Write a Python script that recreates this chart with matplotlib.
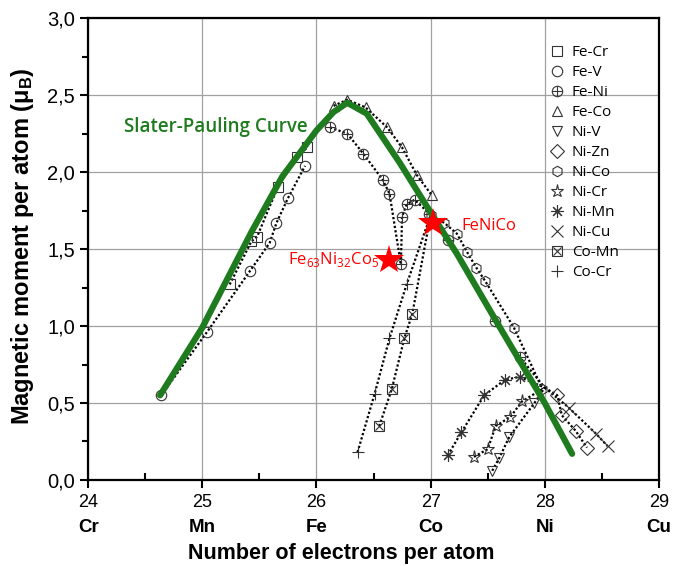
import matplotlib
matplotlib.use("Agg")
import matplotlib.pyplot as plt
from matplotlib.ticker import MultipleLocator, FuncFormatter

plt.rcParams['mathtext.fontset'] = 'custom'
plt.rcParams['mathtext.rm'] = 'Open Sans'

# Slater-Pauling curve (green)
sp_x = [24.63, 25.0, 25.43, 25.70, 26.0, 26.15, 26.27, 26.44, 26.73, 26.99, 27.23, 27.6, 28.0, 28.24]
sp_y = [0.55, 0.99, 1.61, 1.97, 2.27, 2.39, 2.45, 2.38, 2.06, 1.75, 1.47, 1.0, 0.5, 0.17]

# pure Co and Ni end points
co_x, co_y = 27.0, 1.72
ni_x, ni_y = 28.0, 0.6

fecr_x = [25.24, 25.43, 25.48, 25.66, 25.83, 25.92]
fecr_y = [1.27, 1.55, 1.58, 1.90, 2.10, 2.16]
fev_x = [24.64, 25.04, 25.42, 25.59, 25.65, 25.75, 25.90]
fev_y = [0.55, 0.96, 1.36, 1.54, 1.67, 1.83, 2.04]
feni_x = [26.12, 26.27, 26.41, 26.58, 26.64, 26.74, 26.75, 26.79, 26.86, 26.99, 27.15, 27.56, 27.78]
feni_y = [2.29, 2.25, 2.12, 1.95, 1.86, 1.40, 1.71, 1.79, 1.82, 1.73, 1.56, 1.03, 0.80]
feco_x = [26.15, 26.27, 26.43, 26.62, 26.75, 26.88, 27.01]
feco_y = [2.43, 2.47, 2.42, 2.29, 2.16, 1.98, 1.85]
niv_x = [27.54, 27.60, 27.69, 27.91]
niv_y = [0.06, 0.14, 0.28, 0.50]
nizn_x = [28.11, 28.15, 28.27, 28.37]
nizn_y = [0.55, 0.42, 0.32, 0.21]
nico_x = [27.12, 27.23, 27.32, 27.40, 27.48, 27.73, 27.98]
nico_y = [1.67, 1.60, 1.48, 1.38, 1.29, 0.99, 0.59]
nicr_x = [27.38, 27.50, 27.57, 27.70, 27.80]
nicr_y = [0.15, 0.20, 0.35, 0.41, 0.51]
nimn_x = [27.15, 27.27, 27.47, 27.65, 27.78]
nimn_y = [0.16, 0.31, 0.55, 0.65, 0.67]
nicu_x = [28.21, 28.45, 28.55]
nicu_y = [0.47, 0.30, 0.22]
comn_x = [26.55, 26.66, 26.77, 26.84]
comn_y = [0.35, 0.59, 0.92, 1.08]
cocr_x = [26.36, 26.51, 26.64, 26.79]
cocr_y = [0.18, 0.56, 0.92, 1.27]

stars_x = [26.64, 27.02]
stars_y = [1.43, 1.67]

x_ticks = [24, 25, 26, 27, 28, 29]
elements = ["Cr", "Mn", "Fe", "Co", "Ni", "Cu"]

fig = plt.figure(figsize=(6.73, 5.66), dpi=100)
ax = fig.add_axes([0.131, 0.152, 0.848, 0.816])

dot = dict(color='black', linestyle=(0, (1, 1)), linewidth=1.6, zorder=3)
mk = dict(linestyle='none', markerfacecolor='none', markeredgecolor='#333333',
          markeredgewidth=0.8, markersize=7.5, zorder=4)

# dotted connecting lines
ax.plot(fecr_x, fecr_y, **dot)
ax.plot(fev_x, fev_y, **dot)
ax.plot(feni_x + [ni_x], feni_y + [ni_y], **dot)
ax.plot(feco_x, feco_y, **dot)
ax.plot(niv_x + [ni_x], niv_y + [ni_y], **dot)
ax.plot([ni_x] + nizn_x, [ni_y] + nizn_y, **dot)
ax.plot([co_x] + nico_x, [co_y] + nico_y, **dot)
ax.plot(nicr_x + [ni_x], nicr_y + [ni_y], **dot)
ax.plot(nimn_x + [ni_x], nimn_y + [ni_y], **dot)
ax.plot([ni_x] + nicu_x, [ni_y] + nicu_y, **dot)
ax.plot(comn_x + [co_x], comn_y + [co_y], **dot)
ax.plot(cocr_x + [co_x], cocr_y + [co_y], **dot)

# markers
h_fecr, = ax.plot(fecr_x, fecr_y, marker='s', **mk)
h_fev, = ax.plot(fev_x, fev_y, marker='o', **mk)
h_feni1, = ax.plot(feni_x, feni_y, marker='o', **mk)
h_feni2, = ax.plot(feni_x, feni_y, marker='+', **{**mk, 'markersize': 7.5})
h_feco, = ax.plot(feco_x, feco_y, marker='^', **mk)
h_niv, = ax.plot(niv_x, niv_y, marker='v', **mk)
h_nizn, = ax.plot(nizn_x, nizn_y, marker='D', **{**mk, 'markersize': 7})
h_nico, = ax.plot([co_x] + nico_x, [co_y] + nico_y, marker='h', **mk)
h_nicr, = ax.plot(nicr_x, nicr_y, marker='*', **{**mk, 'markersize': 9.5})
h_nimn, = ax.plot(nimn_x, nimn_y, marker=(8, 2, 0), **{**mk, 'markersize': 9})
h_nicu, = ax.plot(nicu_x, nicu_y, marker='x', **{**mk, 'markersize': 9})
h_comn1, = ax.plot(comn_x, comn_y, marker='s', **mk)
h_comn2, = ax.plot(comn_x, comn_y, marker='x', **{**mk, 'markersize': 5.5})
h_cocr, = ax.plot(cocr_x, cocr_y, marker='+', **{**mk, 'markersize': 9})

# Slater-Pauling curve
ax.plot(sp_x, sp_y, color='#1e7b1e', linewidth=4.5, solid_capstyle='round',
        solid_joinstyle='round', zorder=5)

# highlighted alloys
ax.plot(stars_x, stars_y, linestyle='none', marker='*', markersize=22,
        color='#ff0000', markeredgewidth=0, zorder=6)

ax.text(24.31, 2.29, "Slater-Pauling Curve", color='#1e7b1e', fontsize=13.5,
        family='Open Sans', fontweight='semibold', va='center', ha='left')
ax.text(26.55, 1.43, r"Fe$_{63}$Ni$_{32}$Co$_{5}$", color='#ff0000', fontsize=12,
        family='Open Sans', va='center', ha='right')
ax.text(27.27, 1.65, "FeNiCo", color='#ff0000', fontsize=12,
        family='Open Sans', va='center', ha='left')

handles = [h_fecr, h_fev, (h_feni1, h_feni2), h_feco, h_niv, h_nizn, h_nico,
           h_nicr, h_nimn, h_nicu, (h_comn1, h_comn2), h_cocr]
labels = ["Fe-Cr", "Fe-V", "Fe-Ni", "Fe-Co", "Ni-V", "Ni-Zn", "Ni-Co",
          "Ni-Cr", "Ni-Mn", "Ni-Cu", "Co-Mn", "Co-Cr"]
ax.legend(handles, labels, loc='upper left', bbox_to_anchor=(0.81, 0.942),
          frameon=False, handlelength=0.9, handletextpad=0.5, labelspacing=0.33,
          borderpad=0, borderaxespad=0, prop={'family': 'Open Sans', 'size': 11})

ax.set_xlim(24, 29)
ax.set_ylim(0, 3.0)
ax.xaxis.set_major_locator(MultipleLocator(1))
ax.xaxis.set_minor_locator(MultipleLocator(0.5))
ax.yaxis.set_major_locator(MultipleLocator(0.5))
ax.yaxis.set_minor_locator(MultipleLocator(0.25))
ax.yaxis.set_major_formatter(FuncFormatter(lambda v, p: f"{v:.1f}".replace('.', ',')))
ax.grid(True, which='major', color='#a0a0a0', linewidth=0.9)
ax.set_axisbelow(True)

ax.tick_params(axis='both', which='major', direction='out', length=6, width=1.5,
               labelsize=13, labelfontfamily='Liberation Sans')
ax.tick_params(axis='y', which='major', labelsize=14.5)
ax.tick_params(axis='x', which='minor', direction='in', length=5, width=1.5)
ax.tick_params(axis='y', which='minor', direction='out', length=4, width=1.5)
ax.tick_params(axis='x', which='major', pad=4)
for s in ax.spines.values():
    s.set_linewidth(1.6)

for xv, el in zip(x_ticks, elements):
    ax.text(xv, -0.085, el, transform=ax.get_xaxis_transform(), ha='center', va='top',
            fontsize=13.5, fontweight='bold', family='Liberation Sans')

ax.set_xlabel("Number of electrons per atom", fontsize=15.5, fontweight='bold',
              family='Liberation Sans')
ax.xaxis.set_label_coords(0.443, -0.137)
ax.set_ylabel(r"Magnetic moment per atom ($\mathregular{\mu_B}$)", fontsize=17,
              fontweight='bold', family='Liberation Sans')
ax.yaxis.set_label_coords(-0.092, 0.506)

fig.savefig("out.png", dpi=100)
